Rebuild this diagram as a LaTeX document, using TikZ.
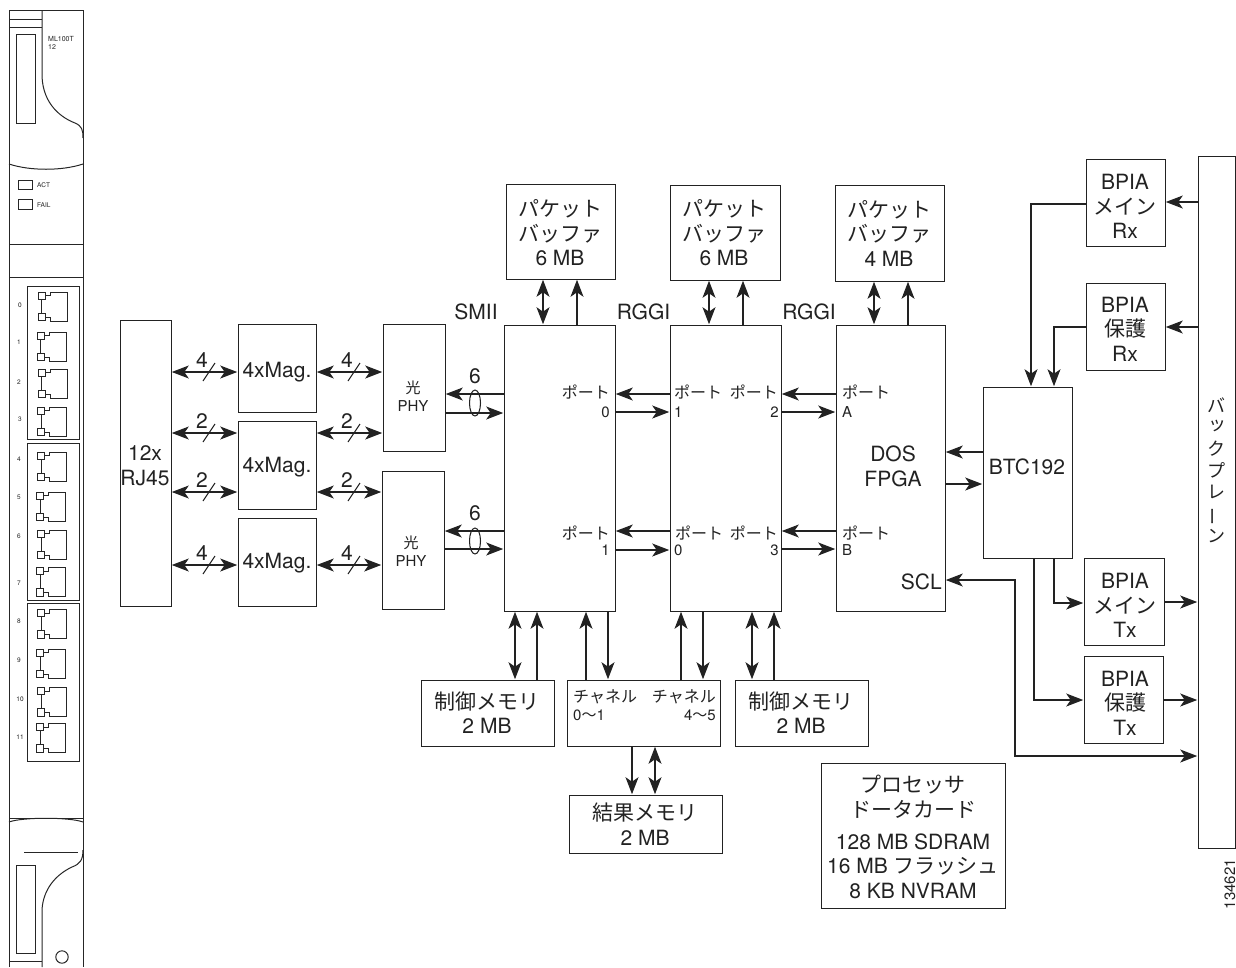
\documentclass[tikz,border=0pt]{standalone}
\usepackage{fontspec}
\usetikzlibrary{arrows.meta,fit}
\setmainfont{TeX Gyre Heros}
\newfontfamily\ja{Noto Sans CJK JP}
\newcommand{\J}[1]{{\ja #1}}
\newcommand{\JS}[1]{{\ja\fontsize{16}{18}\selectfont #1}}
\newcommand{\fs}[2]{\fontsize{#1}{#2}\selectfont\lineskiplimit=-100pt\relax}
\definecolor{ink}{HTML}{222222}
\tikzset{
  bx/.style={draw=ink,line width=1pt,inner sep=0pt,outer sep=0pt},
  big/.style={text=ink,align=center,inner sep=0pt,font=\fs{21}{24.5}},
  small/.style={text=ink,align=center,inner sep=0pt,font=\fs{15}{18}},
  tiny/.style={text=ink,inner sep=0pt,font=\fs{6.5}{8}},
  ln/.style={draw=ink,line width=1.05pt},
  pl/.style={draw=black!85,line width=1pt},
  sgl/.style={ln,-{Stealth[length=17pt,width=13pt,inset=4.5pt]},shorten >=0.8pt},
  dbl/.style={ln,{Stealth[length=17pt,width=13pt,inset=4.5pt]}-{Stealth[length=17pt,width=13pt,inset=4.5pt]},shorten >=0.8pt,shorten <=0.8pt},
}
\newcommand{\rjport}[2]{\begin{scope}[shift={(#1,#2)}]
  \draw[pl] (0,0) rectangle (7,7) (0,21) rectangle (7,28.5) (3.5,7) -- (3.5,21);
  \draw[pl] (7,3.5) -- (12,3.5) -- (12,0) -- (29,0) -- (29,29) -- (12,29) -- (12,25) -- (7,25);
\end{scope}}
\newcommand{\busmark}[4]{% name, x, y, digit
  \draw[ln] (#2-6,#3+9) -- (#2+6,#3-9);
  \node[big] (#1) at (#2-7,#3-12) {#4};}
\begin{document}
\begin{tikzpicture}[x=1pt,y=-1pt]
\useasboundingbox (0,0) rectangle (1236,967);
% ---------- line card front panel ----------
\draw[pl] (9,967) -- (9,10) -- (83,10) -- (83,967);
\draw[pl] (9,19) -- (42,19) (9,27) -- (42,27);
\draw[pl] (42,10) -- (42,76) .. controls (43,105) and (62,118) .. (75,123) .. controls (82,126) and (83,130) .. (83,138);
\draw[pl] (9,164) .. controls (30,171) and (62,171) .. (83,164);
\draw[pl] (16.5,34) rectangle (35,123);
\node[tiny,anchor=west,font=\fs{7}{8}] (mlname) at (48,39) {ML100T};
\node[tiny,anchor=west,font=\fs{7}{8}] (mlnum) at (48,47) {12};
\draw[pl] (18,180) rectangle (32,189.5) (18,199.5) rectangle (32,209);
\node[tiny,anchor=west] (actl) at (37,185.5) {ACT};
\node[tiny,anchor=west] (faill) at (37,205) {FAIL};
\draw[pl] (9,244) -- (83,244) (9,277) -- (83,277);
\draw[pl] (27.5,286) rectangle (79,439) (27.5,443) rectangle (79,600) (27.5,603) rectangle (79,761);
\rjport{38}{292}\rjport{37}{332}\rjport{38}{369}\rjport{37.5}{407}
\rjport{37.5}{452}\rjport{36.5}{492}\rjport{37.5}{530}\rjport{36.5}{567.5}
\rjport{37.5}{609.5}\rjport{36.5}{649}\rjport{37.5}{687.5}\rjport{36.5}{723.5}
\node[tiny] (p0) at (20,305) {0};
\node[tiny] (p1) at (19,342) {1};
\node[tiny] (p2) at (19,382) {2};
\node[tiny] (p3) at (20,419) {3};
\node[tiny] (p4) at (19,459) {4};
\node[tiny] (p5) at (19,497) {5};
\node[tiny] (p6) at (19,536) {6};
\node[tiny] (p7) at (19,583) {7};
\node[tiny] (p8) at (19,621) {8};
\node[tiny] (p9) at (19,660) {9};
\node[tiny] (p10) at (20,699) {10};
\node[tiny] (p11) at (20,737) {11};
\draw[pl] (9,818) -- (83,818);
\draw[pl] (9,822) .. controls (22,817) and (70,817) .. (83,822);
\draw[pl] (24,852) -- (78,852);
\draw[pl] (42,967) -- (42,910) .. controls (43,890) and (55,875) .. (72,867) .. controls (80,864) and (83,860) .. (83,850);
\draw[pl] (16.5,865) rectangle (35,953.5);
\draw[pl] (9,961) -- (42,961);
\draw[pl] (62,957) circle (6.2pt);
% ---------- boxes ----------
\node[bx,fit={(120,320)(171,606)}] (rj) {};
\node[bx,fit={(238,324)(316,412)}] (mag1) {};
\node[bx,fit={(238,421)(316,509)}] (mag2) {};
\node[bx,fit={(238,518)(316,606)}] (mag3) {};
\node[bx,fit={(383,324)(445,451)}] (phy1) {};
\node[bx,fit={(382,471)(444,609)}] (phy2) {};
\node[bx,fit={(504,325)(615,611)}] (asic1) {};
\node[bx,fit={(670,325)(781,611)}] (asic2) {};
\node[bx,fit={(836,325)(945,611)}] (fpga) {};
\node[bx,fit={(506,184)(615,279)}] (pb1) {};
\node[bx,fit={(670,185)(780,280)}] (pb2) {};
\node[bx,fit={(835,185)(944,281)}] (pb3) {};
\node[bx,fit={(421,680)(554,746)}] (cm1) {};
\node[bx,fit={(567,680)(720,746)}] (chan) {};
\node[bx,fit={(735,680)(868,746)}] (cm2) {};
\node[bx,fit={(569,795)(722,853)}] (res) {};
\node[bx,fit={(821,763)(1005,908)}] (proc) {};
\node[bx,fit={(983,387)(1072,558)}] (btc) {};
\node[bx,fit={(1086,159)(1165,246)}] (rx1) {};
\node[bx,fit={(1086,283)(1165,370)}] (rx2) {};
\node[bx,fit={(1084,558)(1164,645)}] (tx1) {};
\node[bx,fit={(1084,656)(1163,743)}] (tx2) {};
\node[bx,fit={(1198,156)(1235.4,848)}] (bp) {};
% ---------- texts ----------
\node[big] (trj) at (145,465.5) {12x\\RJ45};
\node[big] (tm1) at (277,372) {4xMag.};
\node[big] (tm2) at (277,467) {4xMag.};
\node[big] (tm3) at (277,563) {4xMag.};
\node[small] (tp1) at (413,396.5) {\J{光}\\PHY};
\node[small] (tp2) at (411,551.5) {\J{光}\\PHY};
\node[big] (tsmii) at (476,312) {SMII};
\node[big] (trg1) at (643.5,312) {RGGI};
\node[big] (trg2) at (809,312) {RGGI};
\node[big] (tpb1) at (560,233) {\J{パケット}\\\J{バッファ}\\6 MB};
\node[big] (tpb2) at (724,233) {\J{パケット}\\\J{バッファ}\\6 MB};
\node[big] (tpb3) at (889,233) {\J{パケット}\\\J{バッファ}\\4 MB};
\node[big] (tdos) at (893,466.5) {DOS\\FPGA};
\node[big,anchor=east] (tscl) at (942,582) {SCL};
\node[big] (tbtc) at (1027,467) {BTC192};
\node[big] (trx1) at (1125,206.5) {BPIA\\\J{メイン}\\Rx};
\node[big] (trx2) at (1125,329) {BPIA\\\J{保護}\\Rx};
\node[big] (ttx1) at (1125,605.5) {BPIA\\\J{メイン}\\Tx};
\node[big] (ttx2) at (1125,703) {BPIA\\\J{保護}\\Tx};
\node[big] (tcm1) at (487,712.5) {\J{制御メモリ}\\2 MB};
\node[big] (tcm2) at (801,712.5) {\J{制御メモリ}\\2 MB};
\node[big] (tres) at (645,824) {\J{結果メモリ}\\2 MB};
\node[big,anchor=center] (tproc1) at (913,796.5) {\J{プロセッサ}\\\J{ドータカード}};
\node[big] (tproc2) at (913,866) {128 MB SDRAM\\16 MB \J{フラッシュ}\\8 KB NVRAM};
\node[small,anchor=west] (tch1) at (573,697) {\JS{チャネル}};
\node[small,anchor=east] (tch2) at (716,697) {\JS{チャネル}};
\node[small,anchor=west] (tch3) at (573,715) {0\J{〜}1};
\node[small,anchor=east] (tch4) at (716,715) {4\J{〜}5};
% port labels
\node[small,anchor=east] (a0a) at (610,392) {\JS{ポート}};
\node[small,anchor=east] (a0b) at (610,412) {0};
\node[small,anchor=east] (a1a) at (610,533) {\JS{ポート}};
\node[small,anchor=east] (a1b) at (610,550) {1};
\node[small,anchor=west] (b1a) at (674,392) {\JS{ポート}};
\node[small,anchor=west] (b1b) at (674,412) {1};
\node[small,anchor=west] (b0a) at (675,533) {\JS{ポート}};
\node[small,anchor=west] (b0b) at (674,550) {0};
\node[small,anchor=east] (b2a) at (778,392) {\JS{ポート}};
\node[small,anchor=east] (b2b) at (779,412) {2};
\node[small,anchor=east] (b3a) at (778,533) {\JS{ポート}};
\node[small,anchor=east] (b3b) at (779,550) {3};
\node[small,anchor=west] (fAa) at (842,392) {\JS{ポート}};
\node[small,anchor=west] (fAb) at (842,412) {A};
\node[small,anchor=west] (fBa) at (842,533) {\JS{ポート}};
\node[small,anchor=west] (fBb) at (842,550) {B};
% vertical backplane label
\node[big,font=\fs{18}{21.7}\ja] (tbp) at (1216,470) {バ\\\hspace*{3pt}\raisebox{3pt}{ッ}\\ク\\プ\\レ\\\rotatebox[origin=c]{90}{ー}\\ン};
\node[small,rotate=90] (tid) at (1230,884) {134621};
% ---------- connectors ----------
\foreach \y in {372}{\draw[dbl] (rj.east |- 0,\y) -- (mag1.west |- 0,\y); \draw[dbl] (mag1.east |- 0,\y) -- (phy1.west |- 0,\y);}
\foreach \y in {433}{\draw[dbl] (rj.east |- 0,\y) -- (mag2.west |- 0,\y); \draw[dbl] (mag2.east |- 0,\y) -- (phy1.west |- 0,\y);}
\foreach \y in {492}{\draw[dbl] (rj.east |- 0,\y) -- (mag2.west |- 0,\y); \draw[dbl] (mag2.east |- 0,\y) -- (phy2.west |- 0,\y);}
\foreach \y in {565}{\draw[dbl] (rj.east |- 0,\y) -- (mag3.west |- 0,\y); \draw[dbl] (mag3.east |- 0,\y) -- (phy2.west |- 0,\y);}
\busmark{d1}{209}{372}{4}\busmark{d2}{354}{372}{4}
\busmark{d3}{209}{433}{2}\busmark{d4}{354}{433}{2}
\busmark{d5}{209}{492}{2}\busmark{d6}{354}{492}{2}
\busmark{d7}{209}{565}{4}\busmark{d8}{354}{565}{4}
\draw[sgl] (asic1.west |- 0,394) -- (phy1.east |- 0,394);
\draw[sgl] (phy1.east |- 0,413) -- (asic1.west |- 0,413);
\draw[sgl] (asic1.west |- 0,531) -- (phy2.east |- 0,531);
\draw[sgl] (phy2.east |- 0,549) -- (asic1.west |- 0,549);
\draw[ln] (475,403) ellipse (5.5pt and 13pt) (475,541) ellipse (5.5pt and 13pt);
\node[big] (six1) at (475,376) {6};
\node[big] (six2) at (475,513) {6};
\foreach \u/\v in {394/412,531/550}{
  \draw[sgl] (asic2.west |- 0,\u) -- (asic1.east |- 0,\u);
  \draw[sgl] (asic1.east |- 0,\v) -- (asic2.west |- 0,\v);}
\foreach \u/\v in {394/412,531/549}{
  \draw[sgl] (fpga.west |- 0,\u) -- (asic2.east |- 0,\u);
  \draw[sgl] (asic2.east |- 0,\v) -- (fpga.west |- 0,\v);}
% packet buffers
\draw[dbl] (pb1.south -| 543,0) -- (asic1.north -| 543,0);
\draw[sgl] (asic1.north -| 577,0) -- (pb1.south -| 577,0);
\draw[dbl] (pb2.south -| 709,0) -- (asic2.north -| 709,0);
\draw[sgl] (asic2.north -| 743,0) -- (pb2.south -| 743,0);
\draw[dbl] (pb3.south -| 874,0) -- (fpga.north -| 874,0);
\draw[sgl] (fpga.north -| 908,0) -- (pb3.south -| 908,0);
% bottom memories
\draw[dbl] (asic1.south -| 515,0) -- (cm1.north -| 515,0);
\draw[sgl] (cm1.north -| 537,0) -- (asic1.south -| 537,0);
\draw[sgl] (chan.north -| 586,0) -- (asic1.south -| 586,0);
\draw[sgl] (asic1.south -| 608,0) -- (chan.north -| 608,0);
\draw[sgl] (chan.north -| 681,0) -- (asic2.south -| 681,0);
\draw[sgl] (asic2.south -| 703,0) -- (chan.north -| 703,0);
\draw[dbl] (asic2.south -| 752,0) -- (cm2.north -| 752,0);
\draw[sgl] (cm2.north -| 774,0) -- (asic2.south -| 774,0);
\draw[sgl] (chan.south -| 632,0) -- (res.north -| 632,0);
\draw[dbl] (chan.south -| 655,0) -- (res.north -| 655,0);
% right side
\draw[sgl] (btc.west |- 0,452) -- (fpga.east |- 0,452);
\draw[sgl] (fpga.east |- 0,484) -- (btc.west |- 0,484);
\draw[sgl] (bp.west |- 0,202) -- (rx1.east |- 0,202);
\draw[sgl] (bp.west |- 0,327) -- (rx2.east |- 0,327);
\draw[sgl] (rx1.west |- 0,204) -| (btc.north -| 1031,0);
\draw[sgl] (rx2.west |- 0,327) -| (btc.north -| 1054,0);
\draw[sgl] (btc.south -| 1054,0) |- (tx1.west |- 0,603);
\draw[sgl] (btc.south -| 1034,0) |- (tx2.west |- 0,700);
\draw[sgl] (tx1.east |- 0,602) -- (bp.west |- 0,602);
\draw[sgl] (tx2.east |- 0,700) -- (bp.west |- 0,700);
\coordinate (sclbend) at (1015,756);
\draw[dbl] (fpga.east |- 0,580) -| (sclbend) -- (bp.west |- sclbend);
\end{tikzpicture}
\end{document}
